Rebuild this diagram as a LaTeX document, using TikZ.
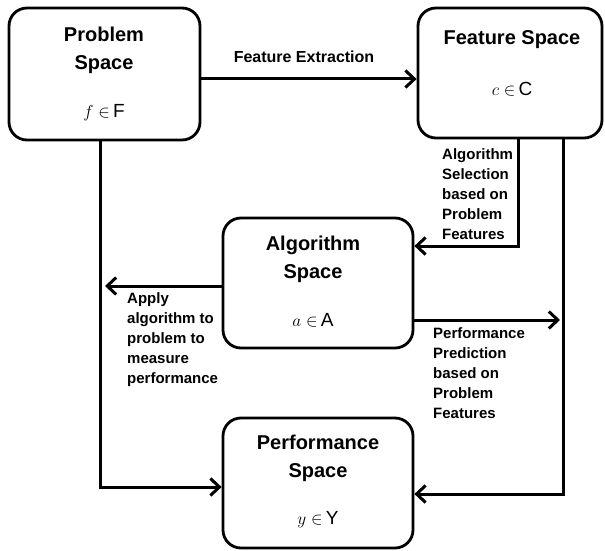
\documentclass[tikz,border=0pt]{standalone}
\usepackage{fontspec}
\setmainfont{Liberation Sans}
\usetikzlibrary{arrows.meta}
\begin{document}
\begin{tikzpicture}[x=1pt,y=-1pt,
  box/.style={draw,line width=2.8pt,rounded corners=18pt,inner sep=0pt},
  title/.style={font=\fontsize{20}{28}\selectfont\bfseries,align=center,inner sep=0pt},
  mathlbl/.style={font=\fontsize{19}{20}\selectfont,inner sep=0pt},
  lbl/.style={font=\fontsize{15}{20}\selectfont\bfseries,align=left,anchor=north west,inner sep=0pt},
  conn/.style={line width=3pt,-{Straight Barb[length=9pt,width=17pt]}}]
\useasboundingbox (0,0) rectangle (605,551);

% boxes
\node[box,minimum width=191pt,minimum height=132pt] (prob) at (104.5,74) {};
\node[box,minimum width=184pt,minimum height=130pt] (feat) at (510,73) {};
\node[box,minimum width=190pt,minimum height=130pt] (alg) at (318,283) {};
\node[box,minimum width=190pt,minimum height=130pt] (perf) at (318,483) {};

% box texts
\node[title] (probt) at (104,50) {Problem\\Space};
\node[mathlbl] (probm) at (104,113) {$f\in$\,F};
\node[title] (featt) at (512,40) {Feature Space};
\node[mathlbl] (featm) at (512,89) {$c\in$\,C};
\node[title] (algt) at (313,259) {Algorithm\\Space};
\node[mathlbl] (algm) at (313,320) {$a\in$\,A};
\node[title] (perft) at (318,458) {Performance\\Space};
\node[mathlbl] (perfm) at (318,520) {$y\in$\,Y};

% free ends
\coordinate (applyend) at (105,286);
\coordinate (predend) at (560,320);

% connectors
\draw[conn] (prob.east |- 0,79) -- node[font=\fontsize{16}{20}\selectfont\bfseries,yshift=22pt,xshift=-5pt] (fet) {Feature Extraction} (feat.west |- 0,79);
\draw[conn] (feat.south -| 518,0) |- (alg.east |- 0,246);
\draw[conn] (alg.west |- 0,286) -- (applyend);
\draw[conn] (prob.south -| 100,0) |- (perf.west |- 0,487);
\draw[conn] (alg.east |- 0,320) -- (predend);
\draw[conn] (feat.south -| 563,0) |- (perf.east |- 0,494);

% labels
\node[lbl] (sel) at (442,148) {Algorithm\\Selection\\based on\\Problem\\Features};
\node[lbl] (apply) at (127,292) {Apply\\algorithm to\\problem to\\measure\\performance};
\node[lbl] (pred) at (433,327) {Performance\\Prediction\\based on\\Problem\\Features};
\end{tikzpicture}
\end{document}
